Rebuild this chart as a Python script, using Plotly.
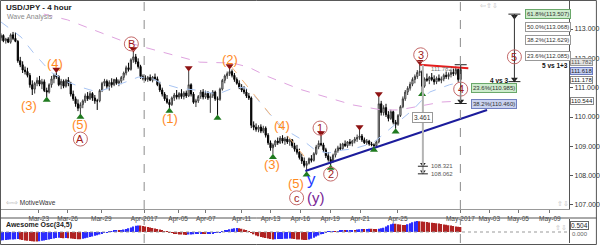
import plotly.graph_objects as go

# ---------------- data ----------------
opens = [
112.70,112.78,112.60,112.66,112.55,112.80,112.68,112.58,111.92,111.78,
111.60,111.55,111.42,111.10,110.95,111.15,111.25,111.12,111.20,110.90,
110.85,111.10,111.30,111.42,111.38,111.10,111.22,111.05,111.25,111.15,
110.78,110.62,110.45,110.30,110.42,110.55,110.72,110.62,110.80,110.65,
110.55,110.55,110.90,111.15,111.22,111.05,111.18,111.10,111.28,111.15,
111.22,111.35,111.50,111.68,111.62,111.95,112.05,111.88,111.72,111.38,
111.32,111.28,111.35,111.25,111.36,111.30,111.10,110.92,110.78,110.62,
110.50,110.42,110.65,110.75,110.68,110.80,110.70,110.82,110.72,111.10,
110.78,110.50,110.55,110.70,110.85,110.68,110.80,110.65,110.72,110.85,
110.62,110.60,110.95,111.25,111.40,111.48,111.55,111.42,111.28,111.15,
111.02,110.92,110.85,110.72,110.65,109.72,109.65,109.58,109.66,109.52,
109.62,109.38,109.12,108.95,109.05,109.18,109.12,109.28,109.18,109.25,
109.15,109.22,109.02,108.90,108.80,108.62,108.50,108.35,108.42,108.58,
108.52,108.75,108.98,109.10,109.05,108.88,108.68,108.55,108.48,108.70,
108.85,108.95,108.92,109.08,109.02,109.15,109.10,109.18,109.25,109.30,
109.35,109.22,109.12,109.18,109.08,109.05,109.02,109.15,110.45,110.15,
110.32,110.08,109.95,110.18,109.82,109.75,110.05,110.35,110.62,110.85,
110.98,111.12,111.28,111.38,111.52,111.55,111.05,111.30,111.25,111.35,
111.28,111.20,111.32,111.25,111.30,111.42,111.38,111.45,111.52,111.48,
111.62,111.28]
highs = [
112.85,112.82,112.70,112.72,112.85,112.90,112.88,112.62,112.05,111.90,
111.72,111.68,111.50,111.25,111.20,111.35,111.40,111.30,111.28,111.00,
111.15,111.40,111.48,111.52,111.42,111.30,111.28,111.30,111.36,111.20,
110.90,110.70,110.60,110.50,110.60,110.80,110.85,110.88,110.85,110.75,
110.62,110.95,111.20,111.30,111.28,111.25,111.32,111.30,111.35,111.28,
111.40,111.55,111.75,111.85,112.00,112.22,112.15,112.00,111.78,111.45,
111.42,111.40,111.45,111.40,111.48,111.38,111.20,111.00,110.85,110.75,
110.60,110.70,110.82,110.92,110.85,110.95,110.88,110.90,111.57,111.15,
110.85,110.62,110.75,110.92,110.95,110.90,110.88,110.82,110.92,110.90,
110.70,111.00,111.30,111.45,111.55,111.64,111.62,111.50,111.35,111.25,
111.12,111.05,110.95,110.82,110.70,109.85,109.78,109.72,109.75,109.70,
109.68,109.45,109.20,109.10,109.22,109.30,109.35,109.38,109.32,109.35,
109.28,109.25,109.12,109.05,108.92,108.75,108.62,108.50,108.62,108.70,
108.80,109.05,109.20,109.35,109.12,108.95,108.80,108.65,108.75,108.92,
109.02,109.10,109.12,109.20,109.18,109.25,109.22,109.32,109.40,109.56,
109.42,109.30,109.25,109.22,109.15,109.10,109.20,110.68,110.55,110.40,
110.45,110.20,110.25,110.22,109.90,110.10,110.40,110.70,110.92,111.05,
111.20,111.35,111.45,111.60,111.78,111.60,111.35,111.48,111.40,111.50,
111.42,111.38,111.45,111.38,111.48,111.55,111.52,111.62,111.65,111.72,
111.65,111.70]
lows = [
112.60,112.55,112.50,112.52,112.50,112.62,112.55,111.85,111.70,111.50,
111.45,111.35,111.00,110.75,110.80,111.05,111.05,110.95,110.85,110.68,
110.80,111.00,111.15,111.30,111.05,110.95,110.98,111.00,111.05,110.70,
110.55,110.35,110.20,110.10,110.30,110.48,110.55,110.58,110.55,110.45,
110.24,110.50,110.85,111.05,110.95,110.90,111.00,111.05,111.10,111.05,
111.12,111.25,111.42,111.55,111.58,111.85,111.80,111.65,111.30,111.25,
111.22,111.20,111.22,111.18,111.25,111.05,110.85,110.70,110.55,110.45,
110.31,110.38,110.55,110.60,110.60,110.62,110.60,110.65,110.68,110.70,
110.45,110.34,110.48,110.62,110.60,110.62,110.58,110.14,110.65,110.55,
110.07,110.55,110.90,111.15,111.30,111.40,111.35,111.20,111.10,110.95,
110.85,110.78,110.65,110.58,109.62,109.55,109.50,109.48,109.45,109.45,
109.30,109.05,108.85,108.73,108.98,109.05,109.08,109.10,109.05,109.08,
109.02,108.95,108.82,108.72,108.55,108.40,108.28,108.13,108.38,108.45,
108.48,108.70,108.90,109.00,108.80,108.60,108.48,108.36,108.45,108.62,
108.78,108.85,108.88,108.98,108.95,109.02,109.00,109.10,109.15,109.22,
109.15,109.08,109.05,109.02,109.00,108.98,108.99,109.10,110.05,110.05,
110.00,109.85,109.90,109.75,109.60,109.70,110.00,110.30,110.55,110.75,
110.90,111.05,111.15,111.30,111.40,110.88,111.00,111.20,111.12,111.22,
111.10,111.12,111.20,111.15,111.22,111.30,111.28,111.35,111.40,111.42,
111.20,111.25]
closes = [
112.78,112.60,112.66,112.55,112.80,112.68,112.58,111.92,111.78,111.60,
111.55,111.42,111.10,110.95,111.15,111.25,111.12,111.20,110.90,110.85,
111.10,111.30,111.42,111.38,111.10,111.22,111.05,111.25,111.15,110.78,
110.62,110.45,110.30,110.42,110.55,110.72,110.62,110.80,110.65,110.55,
110.55,110.90,111.15,111.22,111.05,111.18,111.10,111.28,111.15,111.22,
111.35,111.50,111.68,111.62,111.95,112.05,111.88,111.72,111.38,111.32,
111.28,111.35,111.25,111.36,111.30,111.10,110.92,110.78,110.62,110.50,
110.42,110.65,110.75,110.68,110.80,110.70,110.82,110.72,111.10,110.78,
110.50,110.55,110.70,110.85,110.68,110.80,110.65,110.72,110.85,110.62,
110.60,110.95,111.25,111.40,111.48,111.55,111.42,111.28,111.15,111.02,
110.92,110.85,110.72,110.65,109.72,109.65,109.58,109.66,109.52,109.62,
109.38,109.12,108.95,109.05,109.18,109.12,109.28,109.18,109.25,109.15,
109.22,109.02,108.90,108.80,108.62,108.50,108.35,108.42,108.58,108.52,
108.75,108.98,109.10,109.05,108.88,108.68,108.55,108.48,108.70,108.85,
108.95,108.92,109.08,109.02,109.15,109.10,109.18,109.25,109.30,109.35,
109.22,109.12,109.18,109.08,109.05,109.02,109.15,110.45,110.15,110.32,
110.08,109.95,110.18,109.82,109.75,110.05,110.35,110.62,110.85,110.98,
111.12,111.28,111.38,111.52,111.55,111.05,111.30,111.25,111.35,111.28,
111.20,111.32,111.25,111.30,111.42,111.38,111.45,111.52,111.48,111.62,
111.28,111.62]

ao = [
-0.85,-0.83,-0.80,-0.78,-0.76,-0.74,-0.72,-0.70,
-0.74,-0.79,-0.84,-0.88,-0.91,-0.93,-0.94,-0.95,
-0.92,-0.88,-0.84,-0.80,-0.76,
-0.70,-0.64,-0.60,-0.58,-0.60,-0.62,-0.60,
-0.62,-0.65,-0.68,-0.70,-0.72,-0.73,
-0.68,-0.63,-0.57,-0.50,-0.44,-0.38,-0.32,-0.25,-0.18,-0.10,-0.03,
0.03,0.08,0.12,0.15,0.14,0.18,0.24,0.30,0.38,0.46,0.55,0.62,0.66,
0.64,0.60,0.55,0.50,0.45,0.40,0.35,0.30,0.24,0.17,0.10,0.04,
-0.03,-0.09,-0.15,-0.20,-0.24,-0.26,-0.28,-0.29,
-0.26,-0.24,-0.22,-0.20,-0.18,-0.17,
-0.19,-0.21,-0.20,-0.17,-0.12,-0.10,-0.06,-0.02,
0.05,0.12,0.20,0.27,0.33,0.38,0.41,
0.38,0.32,0.25,0.17,0.08,
-0.08,-0.22,-0.34,-0.43,-0.50,-0.55,-0.60,
-0.65,-0.70,-0.75,
-0.73,-0.71,-0.70,-0.69,-0.68,-0.67,-0.66,
-0.68,-0.71,-0.74,-0.76,-0.78,-0.80,-0.81,
-0.76,-0.68,-0.58,-0.46,-0.34,-0.22,-0.12,-0.03,
0.03,0.06,0.08,0.07,0.10,0.13,0.15,0.14,0.16,0.19,0.21,0.20,
0.24,0.28,0.30,0.29,0.31,0.33,0.32,0.30,0.29,0.33,0.38,0.42,
0.55,0.68,0.78,0.86,
0.82,0.78,0.74,0.71,0.70,
0.78,0.88,0.97,1.05,1.10,
1.08,1.05,1.02,0.99,0.96,0.93,0.90,0.87,0.84,0.80,0.76,0.72,0.68,0.64,0.60,0.56,0.53,0.50]

tick_labels = ["Mar-23", "Mar-26", "Mar-29", "Apr-2017", "Apr-05", "Apr-07", "Apr-11",
               "Apr-13", "Apr-16", "Apr-19", "Apr-21", "Apr-25", "May-2017", "May-03",
               "May-05", "May-09"]
tick_bars = [15.7, 27.7, 41.7, 59.5, 73.6, 85.1, 100.0, 112.0, 124.4, 136.8, 149.2,
             164.9, 190.9, 202.9, 214.9, 228.1]
month_bars = [59.5, 190.9]
price_ticks = [107, 108, 109, 110, 111, 112, 113]

ma_fast_bar = [0, 8.3, 13.6, 20.7, 27.7, 34.3, 40.1, 48.8, 54.1, 57.0, 62.4, 66.5, 73.6, 80.6,
               90.1, 97.5, 101.7, 105.8, 111.2, 118.2, 125.2, 130.6, 136.0, 141.7, 146.3,
               154.5, 162.8, 171.1, 178.1, 186.4, 191.0]
ma_fast_val = [113.24, 112.73, 112.18, 111.53, 111.19, 110.99, 110.85, 111.09, 111.26, 111.36,
               111.33, 111.16, 110.99, 110.92, 110.78, 111.02, 110.99, 110.68, 110.14, 109.56,
               109.22, 108.87, 108.77, 108.87, 108.91, 109.11, 109.66, 110.24, 110.85, 111.10,
               111.178]
ma_slow_bar = [17.8, 27.7, 49.6, 59.1, 82.6, 96.3, 102.9, 110.3, 124.0, 138.8, 146.3, 158.3,
               165.3, 183.1, 191.0]
ma_slow_val = [113.51, 113.31, 112.62, 112.39, 111.87, 111.84, 111.70, 111.40, 110.95, 110.58,
               110.41, 110.24, 110.24, 110.51, 110.544]

channel_bars = [95.5, 126.0]
channel_vals = [111.74, 108.66]
support_bars = [126.5, 202.0]
support_vals = [108.16, 110.24]
resist_bars = [174.0, 194.2]
resist_vals = [111.78, 111.66]

pivot_high_bars = [23, 55, 78, 95, 133, 149, 157, 174]
pivot_low_bars = [19, 33, 70, 90, 113, 127, 137, 155, 164, 175]

fib5_names = ["61.8%", "50.0%", "38.2%", "23.6%"]
fib5_vals = [113.507, 113.068, 112.629, 112.085]
fib5_base = 111.206
fib4_names = ["23.6%", "38.2%"]
fib4_vals = [110.985, 110.460]
wave3_high = 111.782
measure_lows = [108.321, 108.062]
measure_len = 3.461
last_price = 111.618
ma_fast_last = 111.178
ma_slow_last = 110.544
ao_last = 0.504

# ---------------- layout helpers ----------------
FW, FH = 600, 245
PLOT_R = 572
X_RANGE = [-0.41, 236.1]
Y_RANGE = [106.863, 113.955]
AO_RANGE = [-1.1, 1.3]
FONT = "Arial"
BAR_PX = PLOT_R / (X_RANGE[1] - X_RANGE[0])


def px_x(px):
    return px / FW


def px_y(py):
    return 1 - py / FH


def bar_at(px):
    return X_RANGE[0] + px / BAR_PX


N = len(closes)
bars = list(range(N))

fig = go.Figure()

# moving averages
fig.add_trace(go.Scatter(x=ma_slow_bar, y=ma_slow_val, mode="lines",
                         line=dict(color="#dfa3df", width=1, dash="dash"), hoverinfo="skip"))
fig.add_trace(go.Scatter(x=ma_fast_bar, y=ma_fast_val, mode="lines",
                         line=dict(color="#a8c4f2", width=1, dash="dash"), hoverinfo="skip"))
fig.add_trace(go.Scatter(x=channel_bars, y=channel_vals, mode="lines",
                         line=dict(color="#f6b67a", width=1, dash="dash"), hoverinfo="skip"))

# candles
fig.add_trace(go.Candlestick(
    x=bars, open=opens, high=highs, low=lows, close=closes,
    increasing=dict(line=dict(color="#3a3a3a", width=1), fillcolor="#ffffff"),
    decreasing=dict(line=dict(color="#000000", width=1), fillcolor="#000000"),
    whiskerwidth=0, hoverinfo="skip"))

# trend lines
fig.add_trace(go.Scatter(x=support_bars, y=support_vals, mode="lines",
                         line=dict(color="#1c1c9c", width=2), hoverinfo="skip"))
fig.add_trace(go.Scatter(x=resist_bars, y=resist_vals, mode="lines",
                         line=dict(color="#e41d1d", width=2), hoverinfo="skip"))

# pivot markers
pad = 3 / 29.33
fig.add_trace(go.Scatter(x=pivot_high_bars, y=[highs[i] + pad for i in pivot_high_bars],
                         mode="markers", marker=dict(symbol="triangle-down", size=7, color="#8e1212"),
                         hoverinfo="skip"))
fig.add_trace(go.Scatter(x=pivot_low_bars, y=[lows[i] - pad for i in pivot_low_bars],
                         mode="markers", marker=dict(symbol="triangle-up", size=7, color="#1f7a1f"),
                         hoverinfo="skip"))

# awesome oscillator
ao_colors = ["#2b2bff" if (i == 0 or ao[i] >= ao[i - 1]) else "#b02222" for i in range(N)]
fig.add_trace(go.Bar(x=bars, y=ao, marker=dict(color=ao_colors, line=dict(width=0)), width=0.6,
                     xaxis="x2", yaxis="y2", hoverinfo="skip"))

shapes = []
anns = []


def text(x, y, s, size=7, color="#222", xref="paper", yref="paper", xanchor="left",
         yanchor="middle", xshift=0, yshift=0, bold=False, **kw):
    if bold:
        s = "<b>" + s + "</b>"
    anns.append(dict(x=x, y=y, xref=xref, yref=yref, text=s, showarrow=False,
                     xanchor=xanchor, yanchor=yanchor, xshift=xshift, yshift=yshift,
                     font=dict(size=size, color=color, family=FONT), **kw))


def circle_label(s, bar, price, dx, dy, r=7, size=11):
    shapes.append(dict(type="circle", xref="x", yref="y", xsizemode="pixel", ysizemode="pixel",
                       xanchor=bar, yanchor=price, x0=dx - r, x1=dx + r, y0=-dy - r, y1=-dy + r,
                       line=dict(color="#c46a6a", width=1)))
    text(bar, price, s, size=size, color="#9e1a1a", xref="x", yref="y", xanchor="center",
         xshift=dx, yshift=-dy)


def wave_label(s, bar, price, dx, dy, color="#ff8a1f", size=13):
    text(bar, price, s, size=size, color=color, xref="x", yref="y", xanchor="center",
         xshift=dx, yshift=-dy)


def cap(bar, price, half=6, color="#222", width=1):
    shapes.append(dict(type="line", xref="x", yref="y", xsizemode="pixel", xanchor=bar,
                       x0=-half, x1=half, y0=price, y1=price, line=dict(color=color, width=width)))


# wave labels
wave_label("(3)", 19, lows[19], -18, 8)
wave_label("(4)", 23, highs[23], -1, -9)
wave_label("(5)", 33, lows[33], 0, 10)
circle_label("A", 33, lows[33], 0, 25)
circle_label("B", 55, highs[55], -2, -8)
wave_label("(1)", 70, lows[70], 1, 11)
wave_label("(2)", 95, highs[95], 0, -9)
wave_label("(3)", 113, lows[113], -1, 10)
wave_label("(4)", 117, highs[117], -1, -10)
wave_label("(5)", 127, lows[127], -11, 12)
wave_label("y", 127, lows[127], 5, 8, color="#1f3cff", size=17)
circle_label("c", 127, lows[127], -10, 26)
wave_label("(y)", 127, lows[127], 9, 26, color="#7a2696", size=15)
circle_label("1", 133, highs[133], -1, -8)
circle_label("2", 137, lows[137], 0, 9)
circle_label("3", 174, highs[174], 1, -10)

# measurement tool at wave 3
TM = bar_at(425)
shapes.append(dict(type="line", xref="x", yref="y", x0=TM, x1=TM, y0=wave3_high, y1=measure_lows[1],
                   line=dict(color="#b4b4b4", width=2)))
for v in measure_lows:
    cap(TM, v, half=5)
    text(TM, v, f"{v:.3f}", size=6, color="#555", xref="x", yref="y", xshift=6)
fig.add_trace(go.Scatter(x=[TM, TM], y=[v + 0.07 for v in measure_lows], mode="markers",
                         marker=dict(symbol="triangle-down", size=5, color="#222"), hoverinfo="skip"))
text(TM, 110.0, f"{measure_len:.3f}", size=6.5, color="#333", xref="x", yref="y", xanchor="center",
     bgcolor="#ffffff", bordercolor="#999", borderwidth=1, borderpad=1)
text(TM, wave3_high, f"{wave3_high:.3f}", size=6, color="#777", xref="x", yref="y", xshift=6, yshift=-4)

# wave 4 retracement tool
T4 = bar_at(463)
shapes.append(dict(type="line", xref="x", yref="y", x0=T4, x1=T4, y0=wave3_high, y1=fib4_vals[1],
                   line=dict(color="#333", width=1)))
cap(T4, wave3_high)
cap(T4, fib4_vals[1])
fig.add_trace(go.Scatter(x=[T4], y=[fib4_vals[1] + 0.08], mode="markers",
                         marker=dict(symbol="triangle-down", size=6, color="#222"), hoverinfo="skip"))
fib4_fill = ["#cdeccd", "#c9d2f0"]
fib4_line = ["#6aa86a", "#7080c0"]
for name, v, fc, lc in zip(fib4_names, fib4_vals, fib4_fill, fib4_line):
    text(T4, v, f"{name}({v:.3f})", size=6, color="#333", xref="x", yref="y", xshift=10,
         bgcolor=fc, bordercolor=lc, borderwidth=1, borderpad=1)
circle_label("4", T4, fib4_vals[0], 0, 1)

# wave 5 projection tool
T5 = bar_at(517)
shapes.append(dict(type="line", xref="x", yref="y", x0=T5, x1=T5, y0=fib5_vals[0], y1=fib5_base,
                   line=dict(color="#333", width=1)))
cap(T5, fib5_vals[0])
cap(T5, fib5_base)
fig.add_trace(go.Scatter(x=[T5, T5], y=[fib5_vals[0] - 0.08, fib5_base + 0.08], mode="markers",
                         marker=dict(symbol="triangle-down", size=6, color="#222"), hoverinfo="skip"))
fib5_fill = ["#cdeccd", "#ffffff", "#ffffff", "#ffffff"]
fib5_line = ["#6aa86a", "#999", "#999", "#999"]
for name, v, fc, lc in zip(fib5_names, fib5_vals, fib5_fill, fib5_line):
    text(T5, v, f"{name}({v:.3f})", size=6, color="#333", xref="x", yref="y", xshift=11,
         bgcolor=fc, bordercolor=lc, borderwidth=1, borderpad=1)
circle_label("5", T5, fib5_vals[3], 0, 1)
text(T5, 111.77, "5 vs 1+3", size=6.5, color="#111", xref="x", yref="y", xshift=26, bold=True)
text(T5, fib5_base, "4 vs 3", size=6.5, color="#111", xref="x", yref="y", xanchor="right",
     xshift=-4, yshift=1, bold=True)

# right-axis price flags
flag_x = px_x(PLOT_R + 1)
text(flag_x, wave3_high, f"{wave3_high:.3f}", size=6, color="#555", yref="y", yshift=3,
     bgcolor="#e4e4e4", bordercolor="#999", borderwidth=1, borderpad=0)
text(flag_x, last_price, f"{last_price:.3f}", size=6, color="#222", yref="y", yshift=-1,
     bgcolor="#c5d0f5", bordercolor="#6c7cc0", borderwidth=1, borderpad=0)
text(flag_x, ma_fast_last, f"{ma_fast_last:.3f}", size=6, color="#222", yref="y", yshift=2,
     bgcolor="#ffffff", bordercolor="#888", borderwidth=1, borderpad=0)
text(flag_x, ma_slow_last, f"{ma_slow_last:.3f}", size=6, color="#222", yref="y",
     bgcolor="#ffffff", bordercolor="#888", borderwidth=1, borderpad=0)
text(flag_x, 0, "0.000", size=6, color="#666", yref="y2", yshift=-2)
text(flag_x, ao_last, f"{ao_last:.3f}", size=6.5, color="#222", yref="y2", yshift=1,
     bgcolor="#ffffff", bordercolor="#666", borderwidth=1, borderpad=0)

# titles and decorations
text(px_x(4), px_y(8), "USD/JPY - 4 hour", size=8, color="#222", bold=True)
text(px_x(5), px_y(17), "Wave Analysis", size=7, color="#8a8a8a")
text(px_x(4), px_y(202), "⇦⇨ <span style='color:#333'>MotiveWave</span>", size=6.5, color="#aaa")
text(px_x(4), px_y(225), "Awesome Osc(34,5)", size=7, color="#222", bold=True)
text(px_x(480), px_y(6), "⇦⇧⇩", size=7, color="#bbb")
text(px_x(558), px_y(203), "⇧⇩", size=7, color="#bbb")
text(px_x(556), px_y(227), "⇧⇩", size=7, color="#bbb")

# month separators and AO zero line
for mb in month_bars:
    shapes.append(dict(type="line", xref="x", yref="y domain", x0=mb, x1=mb, y0=0, y1=1,
                       line=dict(color="#8c8c8c", width=1, dash="dash")))
    shapes.append(dict(type="line", xref="x2", yref="y2 domain", x0=mb, x1=mb, y0=0, y1=1,
                       line=dict(color="#8c8c8c", width=1, dash="dash")))
shapes.append(dict(type="line", xref="x2", yref="y2", x0=X_RANGE[0], x1=X_RANGE[1], y0=0, y1=0,
                   line=dict(color="#999", width=1, dash="dot")))

# frame
shapes.append(dict(type="rect", xref="paper", yref="paper", x0=0.0008, x1=0.999, y0=0.002, y1=0.998,
                   line=dict(color="#555", width=1)))
shapes.append(dict(type="line", xref="paper", yref="paper", x0=0, x1=1, y0=px_y(218), y1=px_y(218),
                   line=dict(color="#555", width=1)))

fig.update_layout(
    width=FW, height=FH, margin=dict(l=0, r=0, t=0, b=0),
    paper_bgcolor="#ffffff", plot_bgcolor="#ffffff",
    showlegend=False, hovermode=False,
    font=dict(family=FONT, size=7, color="#333"),
    xaxis=dict(domain=[0, px_x(PLOT_R)], range=X_RANGE, anchor="y",
               tickmode="array", tickvals=tick_bars, ticktext=tick_labels,
               tickfont=dict(size=6.5, color="#444", family=FONT), ticks="outside", ticklen=3,
               tickcolor="#777", showline=True, linecolor="#999", showgrid=False,
               zeroline=False, rangeslider=dict(visible=False), fixedrange=True),
    yaxis=dict(domain=[px_y(209), px_y(1)], range=Y_RANGE, anchor="x", side="right",
               tickmode="array", tickvals=price_ticks, tickformat=".3f",
               tickfont=dict(size=7, color="#333", family=FONT), ticks="outside", ticklen=3,
               tickcolor="#555", showline=True, linecolor="#555", showgrid=False, zeroline=False),
    xaxis2=dict(domain=[0, px_x(PLOT_R)], range=X_RANGE, anchor="y2", showticklabels=False,
                ticks="", showline=False, showgrid=False, zeroline=False),
    yaxis2=dict(domain=[px_y(243), px_y(219)], range=AO_RANGE, anchor="x2", side="right",
                showticklabels=False, ticks="", showline=True, linecolor="#555",
                showgrid=False, zeroline=False),
    shapes=shapes, annotations=anns,
)

fig.write_html("out.html")
